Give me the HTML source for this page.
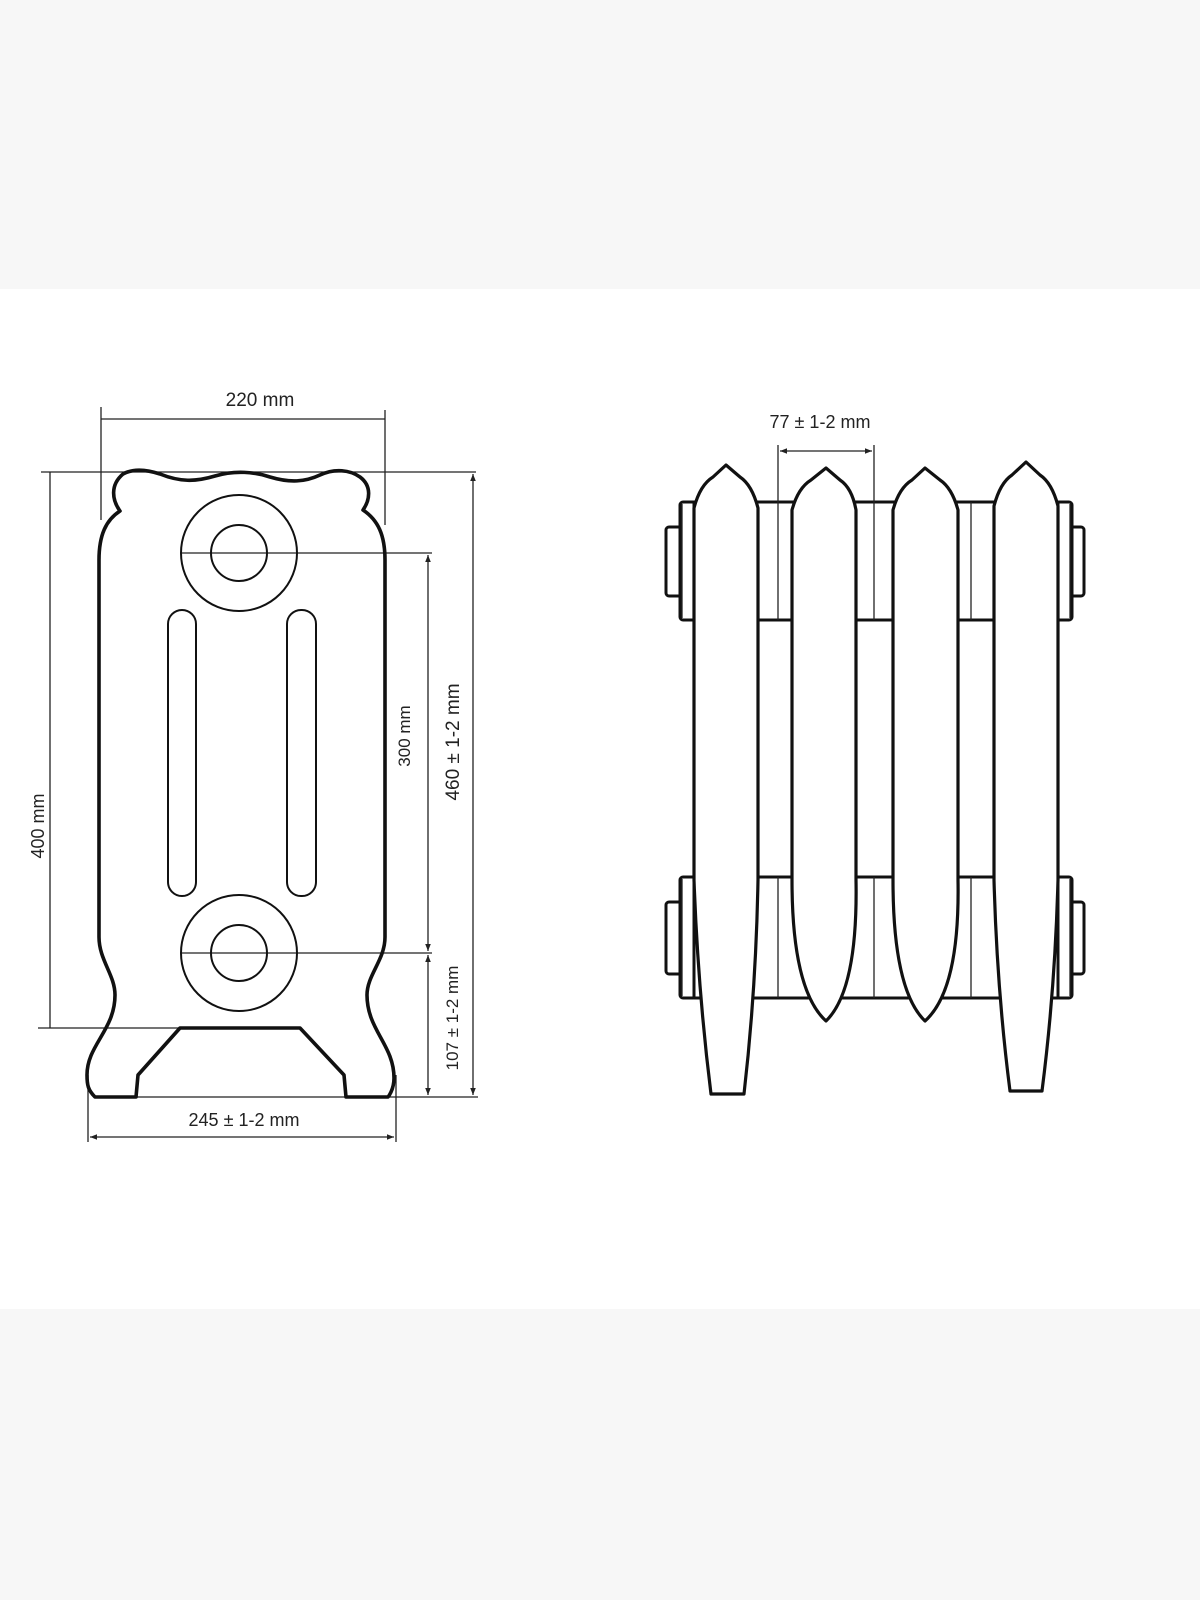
<!DOCTYPE html>
<html><head><meta charset="utf-8"><style>
html,body{margin:0;padding:0;background:#fff}
svg{display:block}
text{font-family:"Liberation Sans",sans-serif;fill:#222}
</style></head><body>
<svg width="1200" height="1600" viewBox="0 0 1200 1600" xmlns="http://www.w3.org/2000/svg">
<defs>
<marker id="a" viewBox="0 0 10 10" refX="10" refY="5" markerWidth="9" markerHeight="7" orient="auto-start-reverse" markerUnits="userSpaceOnUse"><path d="M0,1 L10,5 L0,9 Z" fill="#222"/></marker>
</defs>
<rect x="0" y="0" width="1200" height="289" fill="#f7f7f7"/>
<rect x="0" y="1309" width="1200" height="291" fill="#f7f7f7"/>

<!-- LEFT VIEW dims -->
<g stroke="#222" stroke-width="1.3" fill="none">
<line x1="101" y1="407" x2="101" y2="520"/>
<line x1="385" y1="410" x2="385" y2="525"/>
<line x1="101" y1="419" x2="385" y2="419"/>
<line x1="41" y1="472" x2="476" y2="472"/>
<line x1="50" y1="472" x2="50" y2="1028"/>
<line x1="38" y1="1028" x2="180" y2="1028"/>
<line x1="181" y1="553" x2="432" y2="553"/>
<line x1="181" y1="953" x2="432" y2="953"/>
<line x1="428" y1="555" x2="428" y2="951" marker-start="url(#a)" marker-end="url(#a)"/>
<line x1="428" y1="955" x2="428" y2="1095" marker-start="url(#a)" marker-end="url(#a)"/>
<line x1="473" y1="474" x2="473" y2="1095" marker-start="url(#a)" marker-end="url(#a)"/>
<line x1="136" y1="1097" x2="478" y2="1097"/>
<line x1="88" y1="1075" x2="88" y2="1142"/>
<line x1="396" y1="1075" x2="396" y2="1142"/>
<line x1="90" y1="1137" x2="394" y2="1137" marker-start="url(#a)" marker-end="url(#a)"/>
</g>
<text x="260" y="406" font-size="19" text-anchor="middle">220 mm</text>
<text x="244" y="1126" font-size="18" text-anchor="middle">245 &#177; 1-2 mm</text>
<text transform="translate(44,826) rotate(-90)" font-size="18" text-anchor="middle">400 mm</text>
<text transform="translate(410,736) rotate(-90)" font-size="17" text-anchor="middle" fill="#444">300 mm</text>
<text transform="translate(459,742) rotate(-90)" font-size="19" text-anchor="middle">460 &#177; 1-2 mm</text>
<text transform="translate(458,1018) rotate(-90)" font-size="17" text-anchor="middle">107 &#177; 1-2 mm</text>

<!-- LEFT VIEW body -->
<path d="M123,474 C132,469 145,469 160,474 C180,482 195,482 215,476 C235,470 255,472 270,477 C290,483 305,482 320,475 C335,468 350,470 360,477 C372,486 370,500 363,510 C378,520 385,535 385,560 L385,937 C385,960 367,975 367,995 C367,1030 394,1045 394,1078 C394,1090 388,1097 388,1097 L346,1097 L344,1075 L300,1028 L180,1028 L138,1075 L136,1097 L95,1097 C88,1090 87,1085 87,1075 C87,1045 115,1030 115,995 C115,975 99,960 99,937 L99,560 C99,535 106,520 120,511 C112,500 110,485 123,474 Z" fill="none" stroke="#111" stroke-width="3.6" stroke-linejoin="round"/>
<g stroke="#111" stroke-width="2" fill="none">
<circle cx="239" cy="553" r="58"/><circle cx="239" cy="553" r="28"/>
<circle cx="239" cy="953" r="58"/><circle cx="239" cy="953" r="28"/>
<rect x="168" y="610" width="28" height="286" rx="14"/>
<rect x="287" y="610" width="29" height="286" rx="14"/>
</g>

<!-- RIGHT VIEW -->
<g stroke="#111" stroke-width="3" fill="#fff" stroke-linejoin="round">
<rect x="666" y="527" width="16" height="69" rx="3"/>
<rect x="680" y="502" width="16" height="118" rx="3"/>
<rect x="666" y="902" width="16" height="72" rx="3"/>
<rect x="680" y="877" width="16" height="121" rx="3"/>
<rect x="1070" y="527" width="14" height="69" rx="3"/>
<rect x="1056" y="502" width="16" height="118" rx="3"/>
<rect x="1070" y="902" width="14" height="72" rx="3"/>
<rect x="1056" y="877" width="16" height="121" rx="3"/>
<rect x="694" y="502" width="364" height="118"/>
<rect x="694" y="877" width="364" height="121"/>
</g>
<g stroke="#222" stroke-width="1.3">
<line x1="682" y1="504" x2="682" y2="618"/><line x1="682" y1="879" x2="682" y2="996"/>
<line x1="1070" y1="504" x2="1070" y2="618"/><line x1="1070" y1="879" x2="1070" y2="996"/>
<line x1="971" y1="502" x2="971" y2="620"/><line x1="971" y1="877" x2="971" y2="998"/>
<line x1="778" y1="445" x2="778" y2="620"/><line x1="778" y1="877" x2="778" y2="998"/>
<line x1="874" y1="445" x2="874" y2="620"/><line x1="874" y1="877" x2="874" y2="998"/>
<line x1="780" y1="451" x2="872" y2="451" marker-start="url(#a)" marker-end="url(#a)"/>
</g>
<text x="820" y="428" font-size="18" text-anchor="middle">77 &#177; 1-2 mm</text>
<g stroke="#111" stroke-width="3.2" fill="#fff" stroke-linejoin="round">
<path d="M694,880 L694,508 Q700,485 713,477 L726,465 L740,477 Q752,485 758,508 L758,880 Q756,990 744,1094 L711,1094 Q698,990 694,880 Z"/>
<path d="M792,880 L792,510 Q798,488 811,480 L826,468 L840,480 Q852,488 856,510 L856,880 Q858,990 826,1021 Q792,990 792,880 Z"/>
<path d="M893,880 L893,510 Q899,488 912,480 L925,468 L940,480 Q952,488 958,510 L958,880 Q960,990 925,1021 Q893,990 893,880 Z"/>
<path d="M994,880 L994,506 Q1000,483 1012,475 L1026,462 L1040,475 Q1052,483 1058,506 L1058,880 Q1055,990 1042,1091 L1010,1091 Q997,990 994,880 Z"/>
</g>
</svg>
</body></html>
